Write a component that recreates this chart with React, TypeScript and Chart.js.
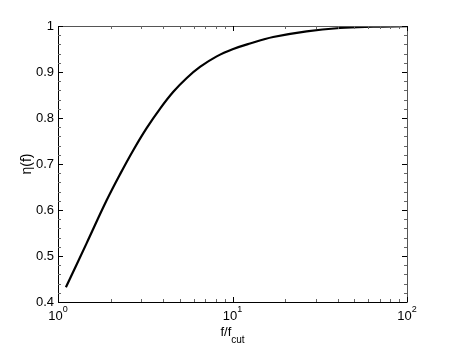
import React, { useEffect, useRef } from "react";
import { Chart, registerables } from "chart.js";

Chart.register(...registerables);

const freqRatio = [1.11, 1.46, 1.9, 2.27, 2.7, 3.22, 3.84, 4.58, 5.47, 6.51, 8.12, 10.1, 12.6, 17.1, 26.6, 41.3, 63.9, 100];
const efficiency = [0.432, 0.528, 0.621, 0.678, 0.73, 0.778, 0.82, 0.857, 0.887, 0.911, 0.934, 0.95, 0.962, 0.976, 0.9885, 0.9957, 0.9985, 0.9998];
const yTickValues = [0.4, 0.5, 0.6, 0.7, 0.8, 0.9, 1];
const yTickLabels = ["0.4", "0.5", "0.6", "0.7", "0.8", "0.9", "1"];
const xTickValues = [1, 10, 100];
const xTickExponents = ["0", "1", "2"];
const yTitle = "η(f)";
const xTitleMain = "f/f";
const xTitleSub = "cut";

const FONT = "Liberation Sans, Arial, Helvetica, sans-serif";

const axesPlugin = {
  id: "matlabAxes",
  afterDraw(chart: any) {
    const ctx = chart.ctx as CanvasRenderingContext2D;
    const { left, right, top, bottom } = chart.chartArea;
    const xs = chart.scales.x;
    const ys = chart.scales.y;
    ctx.save();
    // box
    ctx.strokeStyle = "#000";
    ctx.lineWidth = 1;
    ctx.beginPath();
    ctx.moveTo(Math.round(left) + 0.5, Math.round(top) + 0.5);
    ctx.lineTo(Math.round(left) + 0.5, Math.round(bottom) + 0.5);
    ctx.lineTo(Math.round(right) + 0.5, Math.round(bottom) + 0.5);
    ctx.stroke();
    ctx.strokeStyle = "#555";
    ctx.beginPath();
    ctx.moveTo(Math.round(left) + 0.5, Math.round(top) + 0.5);
    ctx.lineTo(Math.round(right) + 0.5, Math.round(top) + 0.5);
    ctx.lineTo(Math.round(right) + 0.5, Math.round(bottom) + 0.5);
    ctx.stroke();

    // y ticks
    const yMin = ys.min, yMax = ys.max;
    for (let i = 0; i <= Math.round((yMax - yMin) / 0.02); i++) {
      const v = yMin + i * 0.02;
      const py = Math.round(ys.getPixelForValue(v)) + 0.5;
      const major = i % 5 === 0;
      const len = major ? 5 : 3;
      ctx.strokeStyle = major ? "#000" : "#666";
      ctx.beginPath();
      ctx.moveTo(left, py);
      ctx.lineTo(left + len, py);
      ctx.moveTo(right, py);
      ctx.lineTo(right - len, py);
      ctx.stroke();
    }
    // x ticks (log)
    for (let d = 1; d < 100; d *= 10) {
      for (let m = 1; m <= 10; m++) {
        const v = d * m;
        if (v > 100) continue;
        const px = Math.round(xs.getPixelForValue(v)) + 0.5;
        const major = m === 1 || m === 10;
        const len = major ? 5 : 3;
        ctx.strokeStyle = major ? "#000" : "#666";
        ctx.beginPath();
        ctx.moveTo(px, bottom);
        ctx.lineTo(px, bottom - len);
        ctx.moveTo(px, top);
        ctx.lineTo(px, top + len);
        ctx.stroke();
      }
    }

    // y labels
    ctx.fillStyle = "#000";
    ctx.font = `13px ${FONT}`;
    ctx.textAlign = "right";
    ctx.textBaseline = "middle";
    yTickValues.forEach((v, i) => {
      ctx.fillText(yTickLabels[i], left - 4, ys.getPixelForValue(v));
    });

    // x labels 10^n
    xTickValues.forEach((v, i) => {
      const px = xs.getPixelForValue(v);
      ctx.font = `13px ${FONT}`;
      const wBase = ctx.measureText("10").width;
      ctx.font = `9px ${FONT}`;
      const wExp = ctx.measureText(xTickExponents[i]).width;
      const start = px - (wBase + wExp) / 2;
      ctx.textAlign = "left";
      ctx.textBaseline = "alphabetic";
      ctx.font = `13px ${FONT}`;
      ctx.fillText("10", start, bottom + 18);
      ctx.font = `9px ${FONT}`;
      ctx.fillText(xTickExponents[i], start + wBase, bottom + 10);
    });

    // x title
    ctx.font = `13px ${FONT}`;
    const wMain = ctx.measureText(xTitleMain).width;
    ctx.font = `10px ${FONT}`;
    const wSub = ctx.measureText(xTitleSub).width;
    const cx = (left + right) / 2;
    const sx = cx - (wMain + wSub) / 2;
    ctx.textAlign = "left";
    ctx.font = `13px ${FONT}`;
    ctx.fillText(xTitleMain, sx, bottom + 34);
    ctx.font = `10px ${FONT}`;
    ctx.fillText(xTitleSub, sx + wMain, bottom + 41);

    // y title
    ctx.save();
    ctx.translate(left - 31, (top + bottom) / 2);
    ctx.rotate(-Math.PI / 2);
    ctx.font = `14px ${FONT}`;
    ctx.textAlign = "center";
    ctx.textBaseline = "middle";
    ctx.fillText(yTitle, 0, 0);
    ctx.restore();

    ctx.restore();
  },
};

export default function App() {
  const canvasRef = useRef<HTMLCanvasElement | null>(null);

  useEffect(() => {
    const prevMargin = document.body.style.margin;
    document.body.style.margin = "0";
    const canvas = canvasRef.current!;
    const chart = new Chart(canvas, {
      type: "line",
      data: {
        datasets: [
          {
            data: freqRatio.map((f, i) => ({ x: f, y: efficiency[i] })),
            borderColor: "#000",
            borderWidth: 2.2,
            pointRadius: 0,
            tension: 0.4,
            fill: false,
          },
        ],
      },
      options: {
        responsive: false,
        animation: false,
        devicePixelRatio: 1,
        layout: { padding: { left: 58, right: 43, top: 26, bottom: 44 } },
        plugins: { legend: { display: false }, tooltip: { enabled: false } },
        scales: {
          x: { type: "logarithmic", min: 1, max: 100, display: false },
          y: { type: "linear", min: 0.4, max: 1, display: false },
        },
      },
      plugins: [axesPlugin],
    });
    return () => {
      chart.destroy();
      document.body.style.margin = prevMargin;
    };
  }, []);

  return (
    <div style={{ width: 450, height: 346, background: "#fff" }}>
      <canvas ref={canvasRef} width={450} height={346} />
    </div>
  );
}
